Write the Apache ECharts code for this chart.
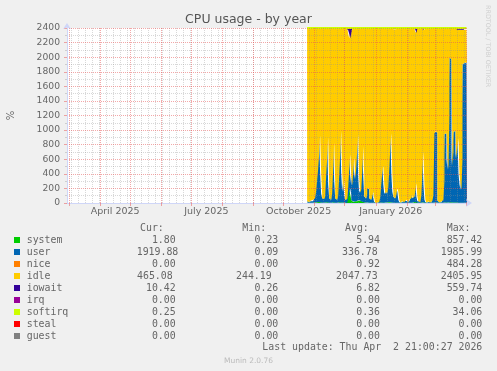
<!DOCTYPE html>
<html>
<head>
<meta charset="utf-8">
<script src="https://cdn.jsdelivr.net/npm/echarts@6/dist/echarts.min.js"></script>
<style>
html,body{margin:0;padding:0;background:#F0F0F0;}
#chart{width:497px;height:371px;}
</style>
</head>
<body>
<div id="chart"></div>
<script>
// ---------- DATA ----------
const axisStart = '2025-02-27';
const axisEnd = '2026-04-02';
const dataStart = '2025-10-25';

const xTickDates = ['2025-04-16', '2025-07-16', '2025-10-16', '2026-01-16'];
const xTickLabels = ['April 2025', 'July 2025', 'October 2025', 'January 2026'];

// daily values from 2025-10-25 to 2026-04-02 (160 days)
const systemVals = [
  4,3,3,4,5,4,5,6, 8,10,12,14,15,8,6,5, 5,6,8,10,12,6,5,4, 5,8,10,6,5,4,5,7,
  9,12,7,6,8,5,4,5, 60,150,200,120,40,15,20,25, 20,25,30,35,40,30,20,15, 10,8,6,5,6,8,5,4,
  5,6,4,3,2,2,2,3, 4,6,8,7,5,5,6,8, 10,12,14,8,6,5,5,6, 5,4,3,2,2,2,3,3,
  3,4,3,2,3,3,4,5, 5,6,8,15,20,6,3,3, 2,4,8,10,6,3,2,2, 2,2,2,2,2,3,5,8,
  8,8,3,2,2,2,2,3, 5,8,8,6,5,8,12,12, 6,6,8,8,6,6,7,5, 4,3,4,5,2,2,2,2
];
const userVals = [
  20,15,10,20,30,20,40,60, 150,300,450,650,910,400,120,60, 50,80,350,600,890,250,60,40, 120,450,820,300,60,40,90,350,
  650,980,400,150,300,100,40,50, 150,300,470,250,200,400,600,300, 450,700,910,300,100,150,400,760, 350,80,60,120,200,180,60,40,
  80,150,60,10,0,0,5,10, 80,250,420,500,250,120,150,120, 200,450,750,950,400,150,80,60, 100,200,150,40,10,5,10,20,
  10,30,40,20,10,20,40,60, 100,60,80,150,250,80,20,20, 10,100,400,700,250,40,10,5, 10,20,10,5,30,100,950,970,
  975,960,30,10,5,10,20,40, 300,940,950,600,450,1200,1985,1960, 500,700,970,980,600,750,880,400, 250,180,600,1900,1915,1920,1918,1920
];
const idleVals = [
  2371,2377,2381,2371,2360,2370,2350,2329, 2236,2084,1931,1728,1467,1986,2269,2330, 2340,2308,2036,1783,1492,2139,2330,2351, 2270,1936,1563,2088,2330,2351,2300,2037,
  1734,1400,1987,2238,2072,2289,2351,2340, 2160,1870,1590,1950,2130,1977,1774,2069, 1924,1668,1452,2058,2254,2214,1974,1619, 2035,2306,2309,2269,2189,2207,2330,2351,
  2310,2239,2331,2383,2394,2394,2389,2383, 2311,2138,1966,1888,2140,2270,2239,2266, 2184,1931,1628,1435,1988,2230,2297,2319, 2277,2181,2241,2353,2384,2389,2383,2373,
  2383,2362,2353,2374,2383,2373,2351,2330, 2290,2328,2304,2215,2060,2294,2371,2372, 2383,2290,1984,1680,2124,2351,2383,2389, 2384,2374,2384,2389,2364,2292,1437,1414,
  1409,1424,2362,2384,2389,2384,2374,2352, 2089,1444,1434,1787,1939,1184,393,418, 1886,1686,1413,1403,1786,1636,1488,1970, 2121,2192,1771,470,458,453,455,468
];
const iowaitVals = [
  5,5,6,5,5,6,5,5, 6,6,7,8,8,6,5,5, 5,6,6,7,6,5,5,5, 5,6,7,6,5,5,5,6,
  7,8,6,6,20,6,5,5, 30,80,140,80,30,8,6,6, 6,7,8,7,6,6,6,6, 5,6,25,6,5,5,5,5,
  5,5,5,4,4,4,4,4, 5,6,6,5,5,5,5,6, 6,7,8,7,6,15,18,15, 18,15,6,5,4,4,4,4,
  4,4,4,4,4,4,5,5, 5,6,8,20,70,20,6,5, 5,6,8,10,20,6,5,4, 4,4,4,4,4,5,8,8,
  8,8,5,4,4,4,4,5, 6,8,8,7,6,8,10,10, 8,8,9,9,8,8,25,25, 25,25,25,25,25,25,25,10
];
const softirqVals = [
  0.3,0.3,0.3,0.3,0.3,0.3,0.3,0.3, 0.4,0.4,0.5,0.5,0.6,0.4,0.3,0.3, 0.3,0.3,0.4,0.5,0.6,0.4,0.3,0.3, 0.3,0.4,0.5,0.4,0.3,0.3,0.3,0.4,
  0.5,0.6,0.4,0.3,0.4,0.3,0.3,0.3, 0.4,0.6,0.8,0.5,0.4,0.4,0.5,0.4, 0.4,0.5,0.6,0.4,0.3,0.3,0.4,0.5, 0.4,0.3,0.3,0.3,0.3,0.3,0.3,0.3,
  0.3,0.3,0.3,0.2,0.2,0.2,0.2,0.2, 0.3,0.3,0.4,0.4,0.3,0.3,0.3,0.3, 0.3,0.4,0.5,0.6,0.4,0.3,0.3,0.3, 0.3,0.3,0.3,0.2,0.2,0.2,0.2,0.2,
  0.2,0.2,0.2,0.2,0.2,0.2,0.2,0.3, 0.3,0.3,0.3,0.3,0.4,0.3,0.2,0.2, 0.2,0.3,0.4,0.5,0.3,0.2,0.2,0.2, 0.2,0.2,0.2,0.2,0.2,0.3,0.6,0.6,
  0.6,0.6,0.2,0.2,0.2,0.2,0.2,0.2, 0.3,0.6,0.6,0.4,0.4,0.7,1.0,1.0, 0.4,0.5,0.6,0.6,0.4,0.5,0.5,0.3, 0.3,0.3,0.3,0.5,0.3,0.3,0.3,0.25
];

// legend table
const legendNames = ['system','user','nice','idle','iowait','irq','softirq','steal','guest'];
const legendColors = ['#00CC00','#0066B3','#FF8000','#FFCC00','#330099','#990099','#CCFF00','#FF0000','#808080'];
const curVals = ['1.80','1919.88','0.00','465.08','10.42','0.00','0.25','0.00','0.00'];
const minVals = ['0.23','0.09','0.00','244.19','0.26','0.00','0.00','0.00','0.00'];
const avgVals = ['5.94','336.78','0.92','2047.73','6.82','0.00','0.36','0.00','0.00'];
const maxVals = ['857.42','1985.99','484.28','2405.95','559.74','0.00','34.06','0.00','0.00'];
const headers = ['Cur:','Min:','Avg:','Max:'];
const lastUpdate = 'Last update: Thu Apr  2 21:00:27 2026';

// ---------- BUILD ----------
function ymd(d){
  const m = d.getUTCMonth()+1, day = d.getUTCDate();
  return d.getUTCFullYear()+'-'+(m<10?'0':'')+m+'-'+(day<10?'0':'')+day;
}
const days = [];
{
  const d = new Date(axisStart+'T00:00:00Z');
  const end = new Date(axisEnd+'T00:00:00Z');
  while (d <= end) { days.push(ymd(d)); d.setUTCDate(d.getUTCDate()+1); }
}
const offset = days.indexOf(dataStart);
const pad = arr => new Array(offset).fill(null).concat(arr);
const isMonthStart = (i, v) => v.slice(8) === '01';
const isMonday = (i, v) => new Date(v+'T00:00:00Z').getUTCDay() === 1;

const MGRID = 'rgba(232,82,82,0.5)';
const GRID = 'rgba(143,143,143,0.35)';
const AXIS = '#CFD6F8';
const FONT = 'DejaVu Sans';
const MONO = 'DejaVu Sans Mono';

function area(name, vals, color, extra){
  return Object.assign({
    name, type:'line', stack:'cpu', data: pad(vals), color, step:'middle',
    showSymbol:false, symbol:'none', silent:true, connectNulls:false,
    lineStyle:{width:0, color}, areaStyle:{color, opacity:1}, z:2
  }, extra||{});
}

const graphics = [];
const rowY0 = 240, rowStep = 12;
const colRights = {
  default: [175.7, 278.3, 380, 482.3],
  user: [178.3, 278.3, 377.7, 482.3],
  idle: [172.7, 271.7, 377.7, 482.3]
};
const headerLefts = [140, 242.3, 345, 446.7];
headers.forEach((h, k) => graphics.push({type:'text', x:headerLefts[k], y:228.3,
  style:{text:h, fill:'#666', font:'9.9px "'+MONO+'"', textAlign:'left', textVerticalAlign:'middle'}}));
legendNames.forEach((n, r) => {
  const y = rowY0 + r*rowStep;
  graphics.push({type:'rect', shape:{x:14, y:y-3, width:6, height:6}, style:{fill:legendColors[r]}});
  graphics.push({type:'text', x:26.7, y, style:{text:n, fill:'#666', font:'9.9px "'+MONO+'"', textAlign:'left', textVerticalAlign:'middle'}});
  const cols = colRights[n] || colRights.default;
  [curVals[r], minVals[r], avgVals[r], maxVals[r]].forEach((v, k) => {
    graphics.push({type:'text', x:cols[k], y, style:{text:v, fill:'#666', font:'9.9px "'+MONO+'"', textAlign:'right', textVerticalAlign:'middle'}});
  });
});
graphics.push({type:'text', x:482.3, y:347.7, style:{text:lastUpdate, fill:'#666', font:'9.9px "'+MONO+'"', textAlign:'right', textVerticalAlign:'middle'}});
graphics.push({type:'text', x:248.5, y:360.7, style:{text:'Munin 2.0.76', fill:'#bbb', font:'7.5px "'+FONT+'"', textAlign:'center', textVerticalAlign:'middle'}});
graphics.push({type:'text', x:488, y:5, rotation:-Math.PI/2, style:{text:'RRDTOOL / TOBI OETIKER', fill:'#cfcfcf', font:'6.4px "'+FONT+'"', textAlign:'left', textVerticalAlign:'middle'}});
graphics.push({type:'text', x:248.5, y:19.3, style:{text:'CPU usage - by year', fill:'#555', font:'12.5px "'+FONT+'"', textAlign:'center', textVerticalAlign:'middle'}});

const option = {
  backgroundColor:'#F0F0F0',
  animation:false,
  grid:{left:67, top:28, width:400, height:175, backgroundColor:'#FFFFFF', show:true, borderWidth:0,
        containLabel:false, outerBoundsMode:'none'},
  xAxis:[
    {
      type:'category', data:days, boundaryGap:false, position:'bottom', z:4,
      axisLine:{show:true, lineStyle:{color:AXIS, width:1}, symbol:['none','arrow'], symbolSize:[6,6], symbolOffset:[0,5]},
      axisTick:{show:true, interval:isMonthStart, length:3, lineStyle:{color:MGRID}},
      axisLabel:{interval:(i,v)=>xTickDates.indexOf(v)>=0, formatter:v=>xTickLabels[xTickDates.indexOf(v)],
        fontSize:9.5, color:'#666', margin:4, fontFamily:FONT},
      splitLine:{show:true, interval:isMonthStart, lineStyle:{color:MGRID, width:1, type:[1,1]}}
    },
    {
      type:'category', data:days, boundaryGap:false, position:'top', z:3,
      axisLine:{show:false}, axisTick:{show:false}, axisLabel:{show:false},
      splitLine:{show:true, interval:isMonday, lineStyle:{color:GRID, width:1, type:[1,1]}}
    }
  ],
  yAxis:{
    type:'value', min:0, max:2400, interval:200, z:4,
    name:'%', nameLocation:'middle', nameGap:51, nameRotate:90,
    nameTextStyle:{fontSize:10, color:'#666', fontFamily:FONT},
    axisLine:{show:true, lineStyle:{color:AXIS, width:1}, symbol:['none','arrow'], symbolSize:[6,6], symbolOffset:[0,5]},
    axisTick:{show:true, length:3, lineStyle:{color:MGRID}},
    minorTick:{show:true, splitNumber:2, length:2, lineStyle:{color:GRID}},
    axisLabel:{fontSize:9.2, color:'#666', margin:7, fontFamily:FONT, formatter:v=>String(v)},
    splitLine:{show:true, lineStyle:{color:MGRID, width:1, type:[1,1]}},
    minorSplitLine:{show:true, lineStyle:{color:GRID, width:1, type:[1,1]}}
  },
  series:[
    area('system', systemVals, '#00CC00'),
    area('user', userVals, '#0066B3'),
    area('idle', idleVals, '#FFCC00'),
    area('iowait', iowaitVals, '#330099'),
    area('softirq', softirqVals, '#CCFF00', {lineStyle:{width:2, color:'#CCFF00'}})
  ],
  graphic:graphics
};

const chart = echarts.init(document.getElementById('chart'), null, {renderer:'canvas'});
chart.setOption(option);
</script>
</body>
</html>
